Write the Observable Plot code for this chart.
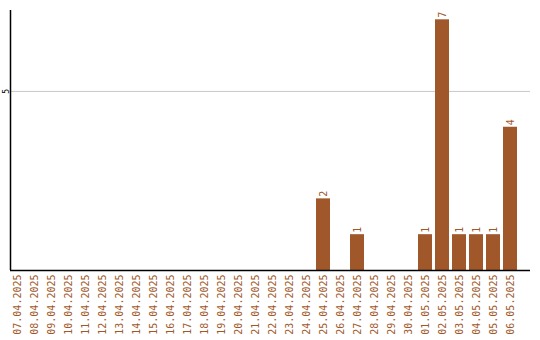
<!DOCTYPE html>
<html>
<head>
<meta charset="utf-8">
<script src="https://cdn.jsdelivr.net/npm/d3@7"></script>
<script src="https://cdn.jsdelivr.net/npm/@observablehq/plot@0.6"></script>
<style>
  html, body { margin: 0; padding: 0; background: #ffffff; }
  #chart svg { display: block; }
</style>
</head>
<body>
<div id="chart"></div>
<script>
// Daily counts, 07.04.2025 – 06.05.2025
const days = [
  "07.04.2025", "08.04.2025", "09.04.2025", "10.04.2025", "11.04.2025",
  "12.04.2025", "13.04.2025", "14.04.2025", "15.04.2025", "16.04.2025",
  "17.04.2025", "18.04.2025", "19.04.2025", "20.04.2025", "21.04.2025",
  "22.04.2025", "23.04.2025", "24.04.2025", "25.04.2025", "26.04.2025",
  "27.04.2025", "28.04.2025", "29.04.2025", "30.04.2025", "01.05.2025",
  "02.05.2025", "03.05.2025", "04.05.2025", "05.05.2025", "06.05.2025"
];
const counts = [
  0, 0, 0, 0, 0,
  0, 0, 0, 0, 0,
  0, 0, 0, 0, 0,
  0, 0, 0, 2, 0,
  1, 0, 0, 0, 1,
  7, 1, 1, 1, 4
];
const yTicks = [5];

const rows = days.map((day, i) => ({day, count: counts[i]}));
const brown = "#a0572a";

const chart = Plot.plot({
  width: 540,
  height: 340,
  marginTop: 10,
  marginLeft: 10,
  marginRight: 10,
  marginBottom: 70,
  style: {fontFamily: "'DejaVu Sans Mono', monospace", fontSize: "10px", background: "#ffffff"},
  x: {
    domain: days,
    range: [10, 517],
    paddingInner: 3 / 17,
    paddingOuter: 0,
    align: 0,
    label: null
  },
  y: {domain: [0, 7.26], label: null},
  marks: [
    Plot.gridY(yTicks, {stroke: "#c8c8c8", strokeOpacity: 1}),
    Plot.barY(rows, {x: "day", y: "count", fill: brown}),
    // value labels, rotated, just above each non-empty bar
    Plot.text(rows.filter(d => d.count > 0), {
      x: "day", y: "count", text: d => String(d.count),
      rotate: -90, textAnchor: "start", dy: -2, fill: brown, fontSize: 10
    }),
    Plot.axisX({tickSize: 0, tickPadding: 4, tickRotate: -90, color: brown, label: null}),
    Plot.axisY(yTicks, {tickSize: 0, tickPadding: 2, tickRotate: -90, fontSize: 8, label: null}),
    Plot.ruleX([0], {x: () => days[0], dx: -7, y1: 0, y2: 7.26, stroke: "#000", strokeWidth: 1.5}),
    Plot.ruleY([0], {stroke: "#000", strokeWidth: 1.5})
  ]
});
document.getElementById("chart").appendChild(chart);
</script>
</body>
</html>
